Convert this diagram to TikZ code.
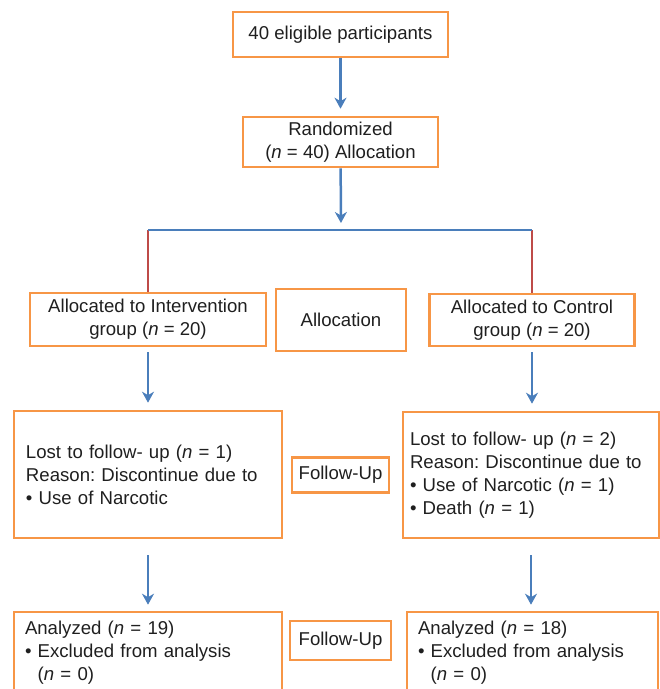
\documentclass[tikz,border=0pt]{standalone}
\usepackage{fontspec}
\setmainfont{Liberation Sans}
\usetikzlibrary{arrows.meta}
\definecolor{boxorange}{HTML}{F79646}
\definecolor{flowblue}{HTML}{4A7EBB}
\definecolor{splitred}{HTML}{BE4B48}
\tikzset{%
	every box/.style={
		rectangle,
		draw=boxorange,
		line width=2.6pt,
		inner sep=0pt,
		align=center,
		text=black!88,
		font=\fontsize{18.6}{23}\selectfont\frenchspacing
	},
	text box/.style={
		align=left
	},
	flow/.style={
		draw=flowblue,
		line width=2.5pt,
		-{Stealth[length=11pt,width=12pt,inset=3.5pt]}
	},
}

\begin{document}
\begin{tikzpicture}[x=1pt, y=-1pt]
		\clip (0,0) rectangle (660,689);
		
		\node [every box, minimum width=215, minimum height=45] (eligible) at (340.5,34.5) {40 eligible participants};
		\node [every box, minimum width=195, minimum height=50] (random) at (340.5,142) {Randomized\\(\textit{n} = 40) Allocation};
		
		\node [every box, minimum width=236, minimum height=53] (interv) at (148,319.5) {Allocated to Intervention\\group (\textit{n} = 20)};
		\node [every box, minimum width=130, minimum height=62] (alloc) at (341,320) {Allocation};
		\node [every box, minimum width=205, minimum height=52] (control) at (532,320) {Allocated to Control\\group (\textit{n} = 20)};
		
		\node [every box, text box, minimum width=268, minimum height=127, text width=244] (lostA) at (148,474.5)
		{Lost to follow- up (\textit{n} = 1)\\Reason: Discontinue due to\\• Use of Narcotic};
		\node [every box, minimum width=97, minimum height=35] (followA) at (340.5,475) {Follow-Up};
		\node [every box, text box, minimum width=256, minimum height=126, text width=242] (lostB) at (531,475)
		{Lost to follow- up (\textit{n} = 2)\\Reason: Discontinue due to\\• Use of Narcotic (\textit{n} = 1)\\• Death (\textit{n} = 1)};
		
		\node [every box, text box, minimum width=268, minimum height=82, text width=246] (anaA) at (148,653)
		{Analyzed (\textit{n} = 19)\\• Excluded from analysis\\\phantom{• }(\textit{n} = 0)};
		\node [every box, minimum width=101, minimum height=39] (followB) at (340.5,640.5) {Follow-Up};
		\node [every box, text box, minimum width=251, minimum height=82, text width=229] (anaB) at (532.5,653)
		{Analyzed (\textit{n} = 18)\\• Excluded from analysis\\\phantom{• }(\textit{n} = 0)};
		
		\coordinate (split) at (341,230);
		\coordinate (split-left) at (interv.north |- split);
		\coordinate (split-right) at (control.north |- split);
		
		\draw [flow, shorten >=7pt] (eligible) -- (random);
		\draw [flow, shorten >=7pt] (random) -- (split);
		
		\draw [draw=splitred, line width=2.2pt] (split-left) -- (interv.north);
		\draw [draw=splitred, line width=2.2pt] (split-right) -- (control.north);
		\draw [draw=flowblue, line width=2.4pt] (split-left) -- (split-right);
		
		\foreach \a/\b/\s/\e in {interv/lostA/5/7, control/lostB/5/7, lostA/anaA/16/6, lostB/anaB/16/6}
		\draw [flow, shorten <=\s pt, shorten >=\e pt] (\a.south) -- (\a.south |- \b.north);
		
\end{tikzpicture}
\end{document}
